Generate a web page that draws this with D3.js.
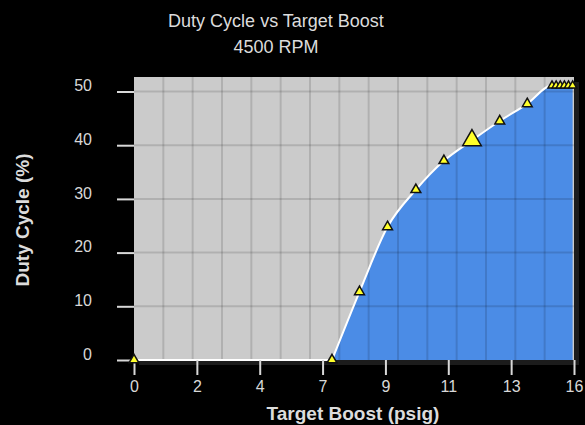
<!DOCTYPE html>
<html>
<head>
<meta charset="utf-8">
<script src="https://cdn.jsdelivr.net/npm/d3@7"></script>
<style>
	body { margin: 0; background: #000; }
	svg { display: block; }
</style>
</head>
<body>
<div class="graph-box"></div>
<script>
// chart data
var boost = [0, 7.2, 8.2, 9.22, 10.25, 11.27, 12.29, 13.3, 14.3, 15.2, 15.35, 15.5, 15.65, 15.8, 15.95];
var duty = [0, 0, 12.7, 24.8, 31.7, 37.1, 40.9, 44.5, 47.7, 51.1, 51.1, 51.1, 51.1, 51.1, 51.1];
var bigPoint = 6; // the highlighted (current) cell
var yTicks = [0, 10, 20, 30, 40, 50];
var xTickLabels = ["0", "2", "4", "7", "9", "11", "13", "16"];
var titleLines = ["Duty Cycle vs Target Boost", "4500 RPM"];

var width = 585, height = 425;
var margin = {top: 77, right: 11, bottom: 65, left: 134};

var svg = d3.select(".graph-box")
		.append("svg")
		.attr("width", width)
		.attr("height", height)
		.style("font-family", "Liberation Sans, Arial, sans-serif");

var x = d3.scaleLinear().domain([0, 16]).range([margin.left, width - margin.right]);
var y = d3.scaleLinear().domain([0, 52.7]).range([height - margin.bottom, margin.top]);

// drop shadow under the plot
svg.append("rect")
		.attr("x", x(0) + 5)
		.attr("y", y(52.7) + 5)
		.attr("width", x(16) - x(0))
		.attr("height", y(0) - y(52.7))
		.attr("fill", "#1c1c1c");

svg.append("rect")
		.attr("x", x(0))
		.attr("y", y(52.7))
		.attr("width", x(16) - x(0))
		.attr("height", y(0) - y(52.7))
		.attr("fill", "#cbcbcb");

var points = boost.map(function(b, i) { return [b, duty[i]]; });
// flat run up to the first rising point is straight, the rest is smoothed
var flat = points.slice(0, 2);
var rising = points.slice(1);
var curve = d3.curveMonotoneX;

svg.append("path")
		.datum(rising)
		.attr("fill", "#4b8ce6")
		.attr("d", d3.area().curve(curve)
			.x(function(d) { return x(d[0]); })
			.y0(y(0))
			.y1(function(d) { return y(d[1]); }));

// grid: 15 columns across, rows at the y ticks
var cols = d3.scaleLinear().domain([0, 15]).range([x(0), x(16)]);
svg.append("g")
		.selectAll("line")
		.data(d3.range(1, 15))
		.enter()
		.append("line")
		.attr("x1", function(d) { return cols(d); })
		.attr("x2", function(d) { return cols(d); })
		.attr("y1", y(52.7))
		.attr("y2", y(0))
		.attr("stroke", "#000")
		.attr("stroke-opacity", 0.13)
		.attr("stroke-width", 2);

svg.append("g")
		.selectAll("line")
		.data(yTicks.slice(1))
		.enter()
		.append("line")
		.attr("x1", x(0))
		.attr("x2", x(16))
		.attr("y1", function(d) { return y(d); })
		.attr("y2", function(d) { return y(d); })
		.attr("stroke", "#000")
		.attr("stroke-opacity", 0.13)
		.attr("stroke-width", 2);

var line = d3.line()
		.x(function(d) { return x(d[0]); })
		.y(function(d) { return y(d[1]); });

svg.append("path")
		.datum(flat)
		.attr("fill", "none")
		.attr("stroke", "#fff")
		.attr("stroke-width", 2)
		.attr("d", line);

svg.append("path")
		.datum(rising)
		.attr("fill", "none")
		.attr("stroke", "#fff")
		.attr("stroke-width", 2)
		.attr("d", line.curve(curve));

// axes
var yAxis = d3.axisLeft(y).tickValues(yTicks).tickSize(17).tickPadding(25);
var gy = svg.append("g")
		.attr("transform", "translate(" + x(0) + ",0)")
		.call(yAxis);
gy.selectAll("text").attr("dy", "-0.05em");

var xAxis = d3.axisBottom(x)
		.tickValues(d3.range(8).map(function(i) { return i * 16 / 7; }))
		.tickFormat(function(d, i) { return xTickLabels[i]; })
		.tickSize(15).tickPadding(6);
var gx = svg.append("g")
		.attr("transform", "translate(0," + y(0) + ")")
		.call(xAxis);

[gx, gy].forEach(function(g) {
	g.select(".domain").remove();
	g.selectAll("line").attr("stroke", "#d8d8d8").attr("stroke-width", 2);
	g.selectAll("text").attr("fill", "#d8d8d8").style("font-size", "16px");
});

// markers
svg.append("g")
		.selectAll("path")
		.data(points)
		.enter()
		.append("path")
		.attr("transform", function(d) { return "translate(" + x(d[0]) + "," + y(d[1]) + ")"; })
		.attr("d", function(d, i) {
			var s = i == bigPoint ? 150 : (i >= 9 ? 28 : 42);
			return d3.symbol().type(d3.symbolTriangle).size(s)();
		})
		.attr("fill", "#ffff2a")
		.attr("stroke", "#111")
		.attr("stroke-width", 1.5);

// titles
svg.append("g")
		.selectAll("text")
		.data(titleLines)
		.enter()
		.append("text")
		.attr("x", 276)
		.attr("y", function(d, i) { return 27 + i * 26; })
		.attr("text-anchor", "middle")
		.attr("fill", "#dcdcdc")
		.style("font-size", "18px")
		.text(function(d) { return d; });

svg.append("text")
		.attr("x", 353)
		.attr("y", 420)
		.attr("text-anchor", "middle")
		.attr("fill", "#dcdcdc")
		.style("font-size", "19px")
		.style("font-weight", "bold")
		.text("Target Boost (psig)");

svg.append("text")
		.attr("transform", "translate(29,220) rotate(-90)")
		.attr("text-anchor", "middle")
		.attr("fill", "#dcdcdc")
		.style("font-size", "19px")
		.style("font-weight", "bold")
		.text("Duty Cycle (%)");
</script>
</body>
</html>
